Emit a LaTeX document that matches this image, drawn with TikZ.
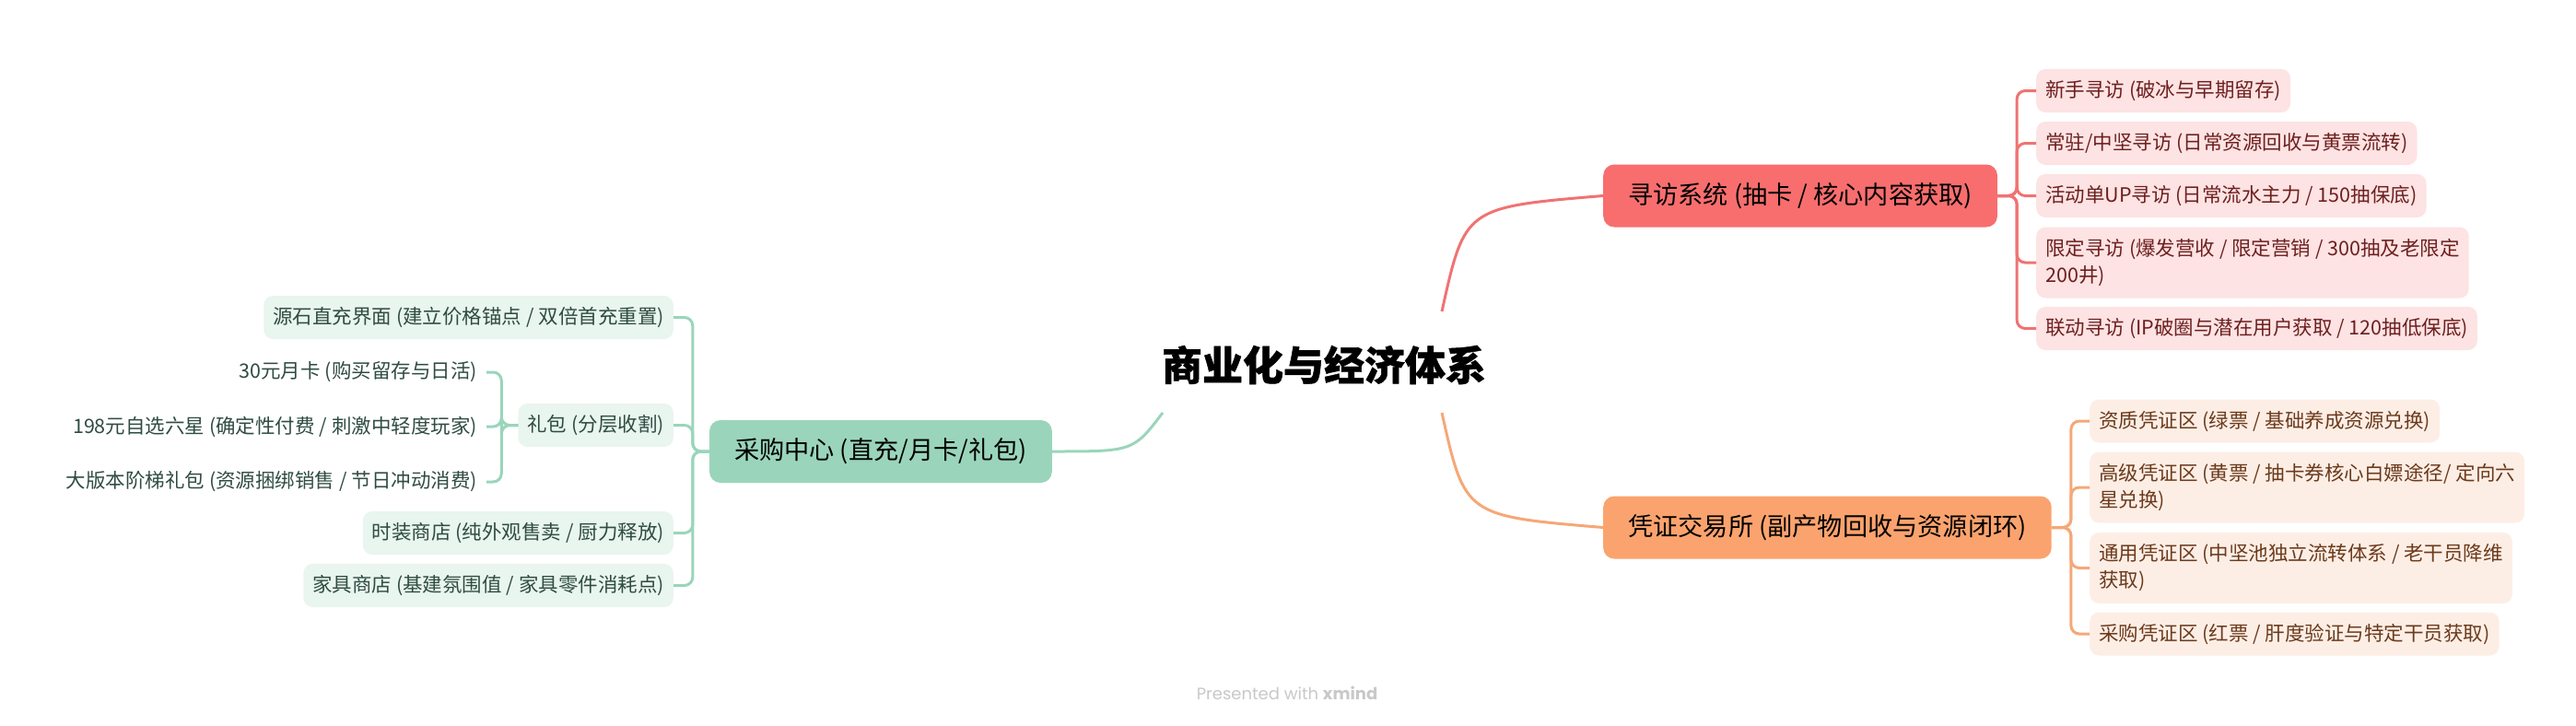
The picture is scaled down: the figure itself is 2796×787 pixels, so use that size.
\documentclass[tikz,border=0pt]{standalone}
\usepackage{fontspec}
\setmainfont{Noto Sans CJK SC}
\newfontfamily\heavyfont[BoldFeatures={FakeBold=1}]{Noto Sans CJK SC}
\newfontfamily\wmfont{Poppins}
\definecolor{xred}{HTML}{F86E6E}
\definecolor{xredlight}{HTML}{FDE3E3}
\definecolor{xredline}{HTML}{F07373}
\definecolor{xredtext}{HTML}{6E1F1F}
\definecolor{xor}{HTML}{FBA36E}
\definecolor{xorlight}{HTML}{FDEEE5}
\definecolor{xorline}{HTML}{F5A877}
\definecolor{xortext}{HTML}{6B3A1C}
\definecolor{xgr}{HTML}{9AD5BB}
\definecolor{xgrlight}{HTML}{E9F5EF}
\definecolor{xgrline}{HTML}{9AD5BB}
\definecolor{xgrtext}{HTML}{2F4C42}
\definecolor{wmgray}{HTML}{C8C8C8}
\begin{document}
\begin{tikzpicture}[x=1pt,y=-1pt,
  rootstyle/.style={font=\heavyfont\fontsize{44}{50}\selectfont\bfseries, text=black, inner sep=0pt},
  mainbox/.style={rounded corners=12pt, minimum height=68pt, inner xsep=27pt, inner ysep=4pt, font=\fontsize{27.2}{34}\selectfont, text=black},
  childbox/.style={rounded corners=10pt, inner xsep=10pt, inner ysep=6pt, minimum height=47pt, align=left, font=\fontsize{21.5}{29}\selectfont},
  twoline/.style={minimum height=77pt},
  redchild/.style={childbox, fill=xredlight, text=xredtext},
  orchild/.style={childbox, fill=xorlight, text=xortext},
  grchild/.style={childbox, fill=xgrlight, text=xgrtext},
  grleaf/.style={childbox, text=xgrtext},
  redline/.style={draw=xredline, line width=3pt, rounded corners=9pt},
  orline/.style={draw=xorline, line width=3pt, rounded corners=9pt},
  grline/.style={draw=xgrline, line width=3pt, rounded corners=9pt},
]
\useasboundingbox (0,0) rectangle (2796,787);

% root
\node[rootstyle] (root) at (1437,396) {商业化与经济体系};
\coordinate (rs) at (1565,338);
\coordinate (os) at (1565,448);
\coordinate (gs) at (1262,448);

% main branches
\node[mainbox, fill=xred, anchor=west] (xf) at (1740,212.5) {寻访系统 (抽卡 / 核心内容获取)};
\node[mainbox, fill=xor, anchor=west] (pz) at (1740,572.5) {凭证交易所 (副产物回收与资源闭环)};
\node[mainbox, fill=xgr, anchor=east] (cg) at (1142,490) {采购中心 (直充/月卡/礼包)};

\draw[redline] (rs) .. controls (1590,225) .. (xf.west);
\draw[orline] (os) .. controls (1590,560) .. (pz.west);
\draw[grline] (gs) .. controls (1230,490) .. (cg.east);

% red children
\node[redchild, anchor=west] (c1) at (2210,98.5) {新手寻访 (破冰与早期留存)};
\node[redchild, anchor=west] (c2) at (2210,155.5) {常驻/中坚寻访 (日常资源回收与黄票流转)};
\node[redchild, anchor=west] (c3) at (2210,212.5) {活动单UP寻访 (日常流水主力 / 150抽保底)};
\node[redchild, twoline, anchor=west] (c4) at (2210,285) {限定寻访 (爆发营收 / 限定营销 / 300抽及老限定\\200井)};
\node[redchild, anchor=west] (c5) at (2210,356.5) {联动寻访 (IP破圈与潜在用户获取 / 120抽低保底)};
\foreach \c in {c1,c2,c3,c4,c5}
  \draw[redline] (xf.east) -- ++(21,0) |- (\c.west);

% orange children
\node[orchild, anchor=west] (o1) at (2268,457) {资质凭证区 (绿票 / 基础养成资源兑换)};
\node[orchild, twoline, anchor=west] (o2) at (2268,529) {高级凭证区 (黄票 / 抽卡券核心白嫖途径/ 定向六\\星兑换)};
\node[orchild, twoline, anchor=west] (o3) at (2268,616.5) {通用凭证区 (中坚池独立流转体系 / 老干员降维\\获取)};
\node[orchild, anchor=west] (o4) at (2268,688) {采购凭证区 (红票 / 肝度验证与特定干员获取)};
\foreach \c in {o1,o2,o3,o4}
  \draw[orline] (pz.east) -- ++(21,0) |- (\c.west);

% green children
\node[grchild, anchor=east] (g1) at (731,344.5) {源石直充界面 (建立价格锚点 / 双倍首充重置)};
\node[grchild, anchor=east] (g2) at (731,461.5) {礼包 (分层收割)};
\node[grchild, anchor=east] (g3) at (731,578.5) {时装商店 (纯外观售卖 / 厨力释放)};
\node[grchild, anchor=east] (g4) at (731,635.5) {家具商店 (基建氛围值 / 家具零件消耗点)};
\foreach \c in {g1,g2,g3,g4}
  \draw[grline] (cg.west) -- ++(-18,0) |- (\c.east);

% gift leaves
\node[grleaf, anchor=east] (l1) at (528,404) {30元月卡 (购买留存与日活)};
\node[grleaf, anchor=east] (l2) at (528,463) {198元自选六星 (确定性付费 / 刺激中轻度玩家)};
\node[grleaf, anchor=east] (l3) at (528,523) {大版本阶梯礼包 (资源捆绑销售 / 节日冲动消费)};
\foreach \c in {l1,l2,l3}
  \draw[grline] (g2.west) -- ++(-18,0) |- (\c.east);

% watermark
\node[font=\wmfont\fontsize{18}{21}\selectfont, text=wmgray] (wm) at (1397,752) {Presented with \textbf{xmind}};
\end{tikzpicture}
\end{document}
